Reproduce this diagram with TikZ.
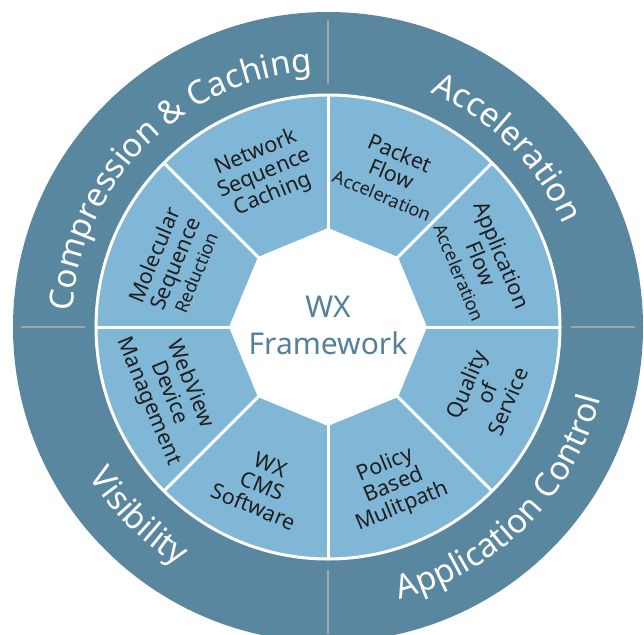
\documentclass[tikz,border=0pt]{standalone}
\usepackage{fontspec}
\setmainfont{Noto Sans}
\usetikzlibrary{decorations.text}
\definecolor{ringdark}{HTML}{5A87A0}
\definecolor{ringlight}{HTML}{80B6D6}
\definecolor{divgray}{HTML}{A3A6A9}
\definecolor{inktext}{HTML}{1E1E1E}
\definecolor{centerink}{HTML}{55809A}
\newcommand{\outerfont}{\fontsize{33}{36}\selectfont}
\newcommand{\smallseg}{\fontsize{18}{20}\selectfont}
\begin{document}
\begin{tikzpicture}[x=1pt,y=1pt,
  seglabel/.style={text=inktext, align=center, font=\fontsize{21.5}{22.5}\selectfont, inner sep=0pt},
  divider/.style={white, line width=3pt},
  quadline/.style={divgray, line width=2.5pt}]
\useasboundingbox (-328,-307) rectangle (316,327);
\clip (-328,-307) rectangle (316,327);
% outer ring
\fill[ringdark] (0,0) circle[radius=315];
\foreach \a in {0,90,180,270}{\draw[quadline] (\a:243) -- (\a:307);}
% inner ring
\fill[ringlight] (0,0) circle[radius=231];
\draw[divider] (0,0) circle[radius=232];
% hub octagon
\fill[white] (0:99) -- (45:99) -- (90:99) -- (135:99) -- (180:99) -- (225:99) -- (270:99) -- (315:99) -- cycle;
\foreach \a in {0,45,...,315}{\draw[divider] (\a:98) -- (\a:232);}
% outer texts
\path[decorate, decoration={text along path, text align=center, text color=white,
  text={|\outerfont|Compression {\&} Caching}}] (180:256) arc[start angle=180, end angle=90, radius=256];
\path[decorate, decoration={text along path, text align=center, text color=white,
  text={|\outerfont|Acceleration}}] (90:256) arc[start angle=90, end angle=0, radius=256];
\path[decorate, decoration={text along path, text align=center, text color=white,
  text={|\outerfont|Application Control}}] (270:282) arc[start angle=270, end angle=360, radius=282];
\path[decorate, decoration={text along path, text align=center, text color=white,
  text={|\outerfont|Visibility}}] (180:282) arc[start angle=180, end angle=270, radius=282];
% segment labels
\node[seglabel, rotate=22.5] (nsc) at (112.5:166) {Network\\Sequence\\Caching};
\node[seglabel, rotate=-22.5] (pfa) at (67.5:166) {Packet\\Flow\\\smallseg Acceleration};
\node[seglabel, rotate=-67.5] (afa) at (22.5:166) {Application\\Flow\\\smallseg Acceleration};
\node[seglabel, rotate=67.5] (qos) at (-22.5:172) {Quality\\of\\Service};
\node[seglabel, rotate=22.5] (pbm) at (-67.5:172) {Policy\\Based\\Mulitpath};
\node[seglabel, rotate=-22.5] (cms) at (-112.5:172) {WX\\CMS\\Software};
\node[seglabel, rotate=-67.5] (wdm) at (202.5:172) {WebView\\Device\\Management};
\node[seglabel, rotate=67.5] (msr) at (157.5:166) {Molecular\\Sequence\\\smallseg Reduction};
% hub text
\node[text=centerink, align=center, font=\fontsize{30}{37}\selectfont, inner sep=0pt] (hub) at (0,2) {WX\\Framework};
\end{tikzpicture}
\end{document}
